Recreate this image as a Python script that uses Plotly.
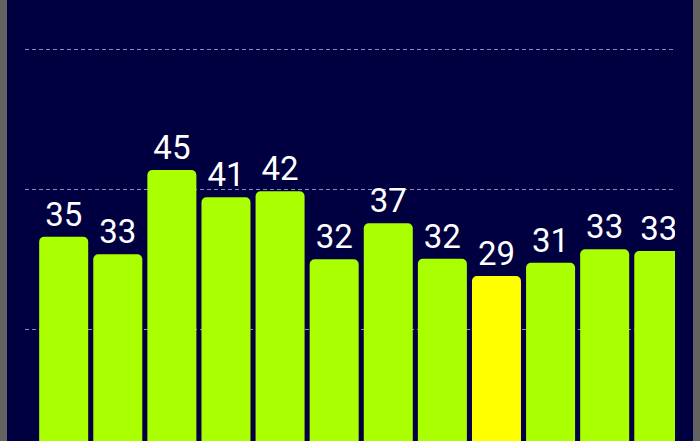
import plotly.graph_objects as go

# bar heights, labels as shown above each bar
slots = list(range(12))
values = [34.91, 32.26, 44.93, 40.83, 41.73, 31.51, 36.92, 31.60, 29.00, 31.00, 33.01, 32.76]
labels = ["35", "33", "45", "41", "42", "32", "37", "32", "29", "31", "33", "33"]
grid_vals = [21, 42, 63]
highlight = 8  # the yellow one

colors = ["#FFFF00" if i == highlight else "#AAFF00" for i in slots]

fig = go.Figure()

fig.add_trace(go.Bar(
    x=slots,
    y=values,
    text=labels,
    textposition="outside",
    textfont=dict(family="Roboto", size=33, color="white"),
    marker=dict(color=colors, cornerradius=5, line=dict(width=0)),
    hoverinfo="skip",
))

fig.update_layout(
    width=700,
    height=441,
    margin=dict(l=25, r=25, t=0, b=0),
    paper_bgcolor="#000040",
    plot_bgcolor="#000040",
    showlegend=False,
    bargap=0.094,
    xaxis=dict(range=[-0.715, 11.30], showticklabels=False, showgrid=False,
               zeroline=False, showline=False, ticks=""),
    yaxis=dict(range=[4.21, 70.47], tickvals=grid_vals, showticklabels=False,
               showgrid=True, gridcolor="#8a8ac0", gridwidth=1, griddash="4px,3px",
               zeroline=False, showline=False, ticks=""),
    shapes=[
        # grey frame strips at the screen edges
        dict(type="rect", xref="paper", yref="paper", x0=-25/650, x1=-18/650,
             y0=0, y1=1, fillcolor="#626262", line=dict(width=0), layer="above"),
        dict(type="rect", xref="paper", yref="paper", x0=668/650, x1=675/650,
             y0=0, y1=1, fillcolor="#626262", line=dict(width=0), layer="above"),
    ],
)

# page has a default body margin, drop it so the figure sits at 0,0
fig.write_html("out.html", config={"displayModeBar": False},
               post_script="document.body.style.margin='0';")
